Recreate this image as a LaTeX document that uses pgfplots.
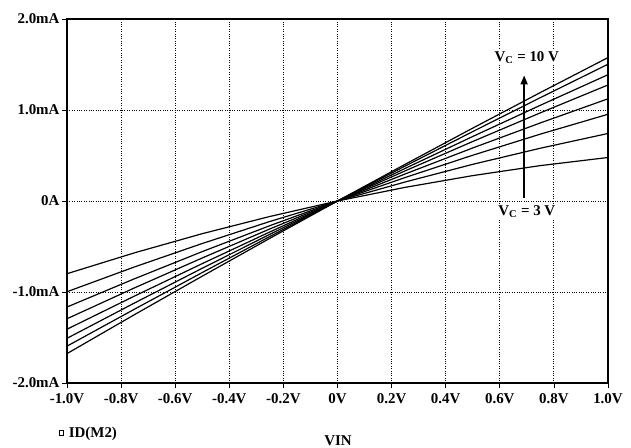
\documentclass[border=0pt]{standalone}
\usepackage{fontspec}
\setmainfont{Liberation Serif}
\usepackage{pgfplots}
\pgfplotsset{compat=1.18}
\usetikzlibrary{arrows.meta}
\newcommand{\lblfont}{\fontsize{15}{17}\selectfont\bfseries}
\pgfplotsset{ivline/.style={black, line width=1.2pt, mark=none}}
\begin{document}
\begin{tikzpicture}
\useasboundingbox (-67bp,-65bp) rectangle (564bp,383bp);
\begin{axis}[
  at={(0,0)}, anchor=south west,
  scale only axis, width=541bp, height=364bp,
  xmin=-1, xmax=1, ymin=-2, ymax=2,
  xtick={-1,-0.8,-0.6,-0.4,-0.2,0,0.2,0.4,0.6,0.8,1},
  xticklabels={-1.0V,-0.8V,-0.6V,-0.4V,-0.2V,0V,0.2V,0.4V,0.6V,0.8V,1.0V},
  ytick={-2,-1,0,1,2},
  yticklabels={-2.0mA,-1.0mA,0A,1.0mA,2.0mA},
  ticklabel style={font=\lblfont},
  xticklabel style={yshift=-2bp},
  yticklabel style={xshift=1bp},
  tick align=outside, major tick length=5bp,
  tick style={black, line width=0.8pt},
  xtick pos=bottom, ytick pos=left,
  grid=major,
  grid style={black, dotted, line width=0.9pt},
  axis line style={black, line width=1.3pt},
  xlabel={VIN},
  xlabel style={at={(axis description cs:0.501,-0.158)}, anchor=center, font=\lblfont},
  legend style={at={(axis description cs:-0.016,-0.137)}, anchor=west, draw=none, fill=none,
    font=\lblfont, inner sep=0pt},
  legend cell align=left,
]
\addlegendimage{legend image code/.code={\draw[black, line width=0.9pt, fill=white] (0bp,-2.2bp) rectangle (4.4bp,2.2bp);}}
\addlegendentry{\hspace{3bp}ID(M2)}
\addplot[ivline] coordinates {(-1,-0.799)(-0.75,-0.569)(-0.5,-0.359)(-0.25,-0.170)(0,0)(0.25,0.150)(0.5,0.279)(0.75,0.389)(1,0.478)};
\addplot[ivline] coordinates {(-1,-0.997)(-0.75,-0.724)(-0.5,-0.467)(-0.25,-0.225)(0,0)(0.25,0.209)(0.5,0.403)(0.75,0.580)(1,0.742)};
\addplot[ivline] coordinates {(-1,-1.165)(-0.75,-0.854)(-0.5,-0.556)(-0.25,-0.271)(0,0)(0.25,0.258)(0.5,0.503)(0.75,0.735)(1,0.953)};
\addplot[ivline] coordinates {(-1,-1.294)(-0.75,-0.954)(-0.5,-0.626)(-0.25,-0.307)(0,0)(0.25,0.297)(0.5,0.583)(0.75,0.858)(1,1.123)};
\addplot[ivline] coordinates {(-1,-1.409)(-0.75,-1.044)(-0.5,-0.688)(-0.25,-0.340)(0,0)(0.25,0.331)(0.5,0.654)(0.75,0.969)(1,1.275)};
\addplot[ivline] coordinates {(-1,-1.509)(-0.75,-1.120)(-0.5,-0.739)(-0.25,-0.366)(0,0)(0.25,0.358)(0.5,0.709)(0.75,1.052)(1,1.388)};
\addplot[ivline] coordinates {(-1,-1.595)(-0.75,-1.188)(-0.5,-0.786)(-0.25,-0.390)(0,0)(0.25,0.384)(0.5,0.763)(0.75,1.136)(1,1.503)};
\addplot[ivline] coordinates {(-1,-1.677)(-0.75,-1.248)(-0.5,-0.826)(-0.25,-0.410)(0,0)(0.25,0.403)(0.5,0.801)(0.75,1.192)(1,1.576)};
\draw[black, line width=1.6pt, -{Triangle[length=9bp,width=7bp]}] (axis cs:0.69,0.03) -- (axis cs:0.69,1.38);
\node[font=\lblfont, fill=white, inner sep=1pt] at (axis cs:0.70,1.58) {V\textsubscript{C} = 10 V};
\node[font=\lblfont, fill=white, inner sep=1pt] at (axis cs:0.70,-0.12) {V\textsubscript{C} = 3 V};
\end{axis}
\end{tikzpicture}
\end{document}
